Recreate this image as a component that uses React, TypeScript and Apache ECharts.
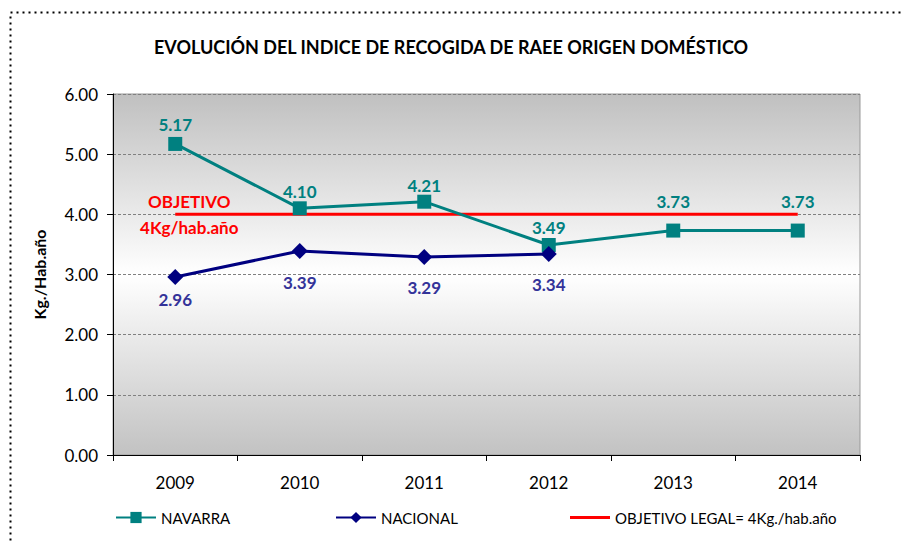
import React, { useEffect, useRef } from "react";
import * as echarts from "echarts";

const years = ["2009", "2010", "2011", "2012", "2013", "2014"];
const navarra = [5.17, 4.10, 4.21, 3.49, 3.73, 3.73];
const nacional = [2.96, 3.39, 3.29, 3.34];
const objetivo = [4, 4, 4, 4, 4, 4];
const yTicks = [0, 1, 2, 3, 4, 5, 6];

const navarraLabelGap = [4, 1, 1, 2, 14, 14];
const nacionalLabelGap = [6, 15, 14, 14];

const FONT = "Lato, 'Open Sans', sans-serif";

export default function App() {
  const ref = useRef<HTMLDivElement>(null);
  useEffect(() => {
    document.body.style.margin = "0";
    const chart = echarts.init(ref.current!, null, { renderer: "svg" });
    const legendText = { fontFamily: FONT, fontSize: 15, color: "#000" };
    chart.setOption({
      animation: false,
      backgroundColor: "#ffffff",
      textStyle: { fontFamily: FONT },
      title: {
        text: "EVOLUCIÓN DEL INDICE DE RECOGIDA DE RAEE ORIGEN DOMÉSTICO",
        left: "center",
        top: 33,
        textStyle: { fontFamily: FONT, fontSize: 18, fontWeight: "bold", color: "#000" },
      },
      graphic: [
        {
          type: "rect",
          shape: { x: 10.5, y: 12.5, width: 900, height: 540 },
          style: { fill: "none", stroke: "#000", lineWidth: 2, lineDash: [2, 4] },
          silent: true,
        },
      ],
      legend: [
        { left: 110, bottom: 11, itemWidth: 40, itemHeight: 14, textStyle: legendText, data: ["NAVARRA"] },
        { left: 330, bottom: 11, itemWidth: 40, itemHeight: 14, textStyle: legendText, data: ["NACIONAL"] },
        {
          left: 565,
          bottom: 11,
          itemWidth: 40,
          itemHeight: 3,
          icon: "rect",
          textStyle: legendText,
          data: ["OBJETIVO LEGAL= 4Kg./hab.año"],
        },
      ],
      grid: {
        left: 113,
        right: 42,
        top: 94,
        bottom: 86,
        show: true,
        borderColor: "#999",
        borderWidth: 1,
        backgroundColor: new echarts.graphic.LinearGradient(0, 0, 0, 1, [
          { offset: 0, color: "#c0c0c0" },
          { offset: 0.5, color: "#ffffff" },
          { offset: 1, color: "#c2c2c2" },
        ]),
      },
      xAxis: {
        type: "category",
        data: years,
        boundaryGap: true,
        axisLine: { lineStyle: { color: "#000", width: 1 } },
        axisTick: { show: true, length: 6, alignWithLabel: false, lineStyle: { color: "#000" } },
        axisLabel: { margin: 19, fontSize: 17, color: "#000", fontFamily: FONT },
      },
      yAxis: {
        type: "value",
        min: yTicks[0],
        max: yTicks[yTicks.length - 1],
        interval: 1,
        name: "Kg./Hab.año",
        nameLocation: "middle",
        nameGap: 66,
        nameTextStyle: { fontFamily: FONT, fontSize: 16, fontWeight: "bold", color: "#000" },
        axisLine: { show: true, lineStyle: { color: "#000", width: 1 } },
        axisTick: { show: true, length: 6, lineStyle: { color: "#000" } },
        axisLabel: {
          margin: 15,
          fontSize: 17,
          color: "#000",
          fontFamily: FONT,
          formatter: (v: number) => v.toFixed(2),
        },
        splitLine: { show: true, lineStyle: { color: "#808080", type: [3, 2], width: 1 } },
      },
      series: [
        {
          name: "OBJETIVO LEGAL= 4Kg./hab.año",
          type: "line",
          data: objetivo,
          symbol: "none",
          lineStyle: { color: "#ff0000", width: 3 },
          itemStyle: { color: "#ff0000" },
          markPoint: {
            symbol: "circle",
            symbolSize: 0,
            silent: true,
            data: [
              {
                coord: [years[0], objetivo[0]],
                label: {
                  show: true,
                  position: "inside",
                  offset: [14, 0],
                  formatter: "OBJETIVO\n4Kg/hab.año",
                  color: "#ff0000",
                  fontSize: 17,
                  fontWeight: "bold",
                  lineHeight: 26,
                  fontFamily: FONT,
                },
              },
            ],
          },
          z: 2,
        },
        {
          name: "NAVARRA",
          type: "line",
          data: navarra.map((v, i) => ({ value: v, label: { distance: navarraLabelGap[i] } })),
          symbol: "rect",
          symbolSize: 14,
          lineStyle: { color: "#008080", width: 3 },
          itemStyle: { color: "#008080" },
          label: {
            show: true,
            position: "top",
            formatter: (p: any) => Number(p.value).toFixed(2),
            color: "#008080",
            fontSize: 17,
            fontWeight: "bold",
            fontFamily: FONT,
          },
          z: 3,
        },
        {
          name: "NACIONAL",
          type: "line",
          data: nacional.map((v, i) => ({ value: v, label: { distance: nacionalLabelGap[i] } })),
          symbol: "diamond",
          symbolSize: 16,
          lineStyle: { color: "#000080", width: 3 },
          itemStyle: { color: "#000080" },
          label: {
            show: true,
            position: "bottom",
            formatter: (p: any) => Number(p.value).toFixed(2),
            color: "#333399",
            fontSize: 17,
            fontWeight: "bold",
            fontFamily: FONT,
          },
          z: 4,
        },
      ],
    });
    return () => chart.dispose();
  }, []);
  return <div ref={ref} style={{ width: 902, height: 541 }} />;
}
